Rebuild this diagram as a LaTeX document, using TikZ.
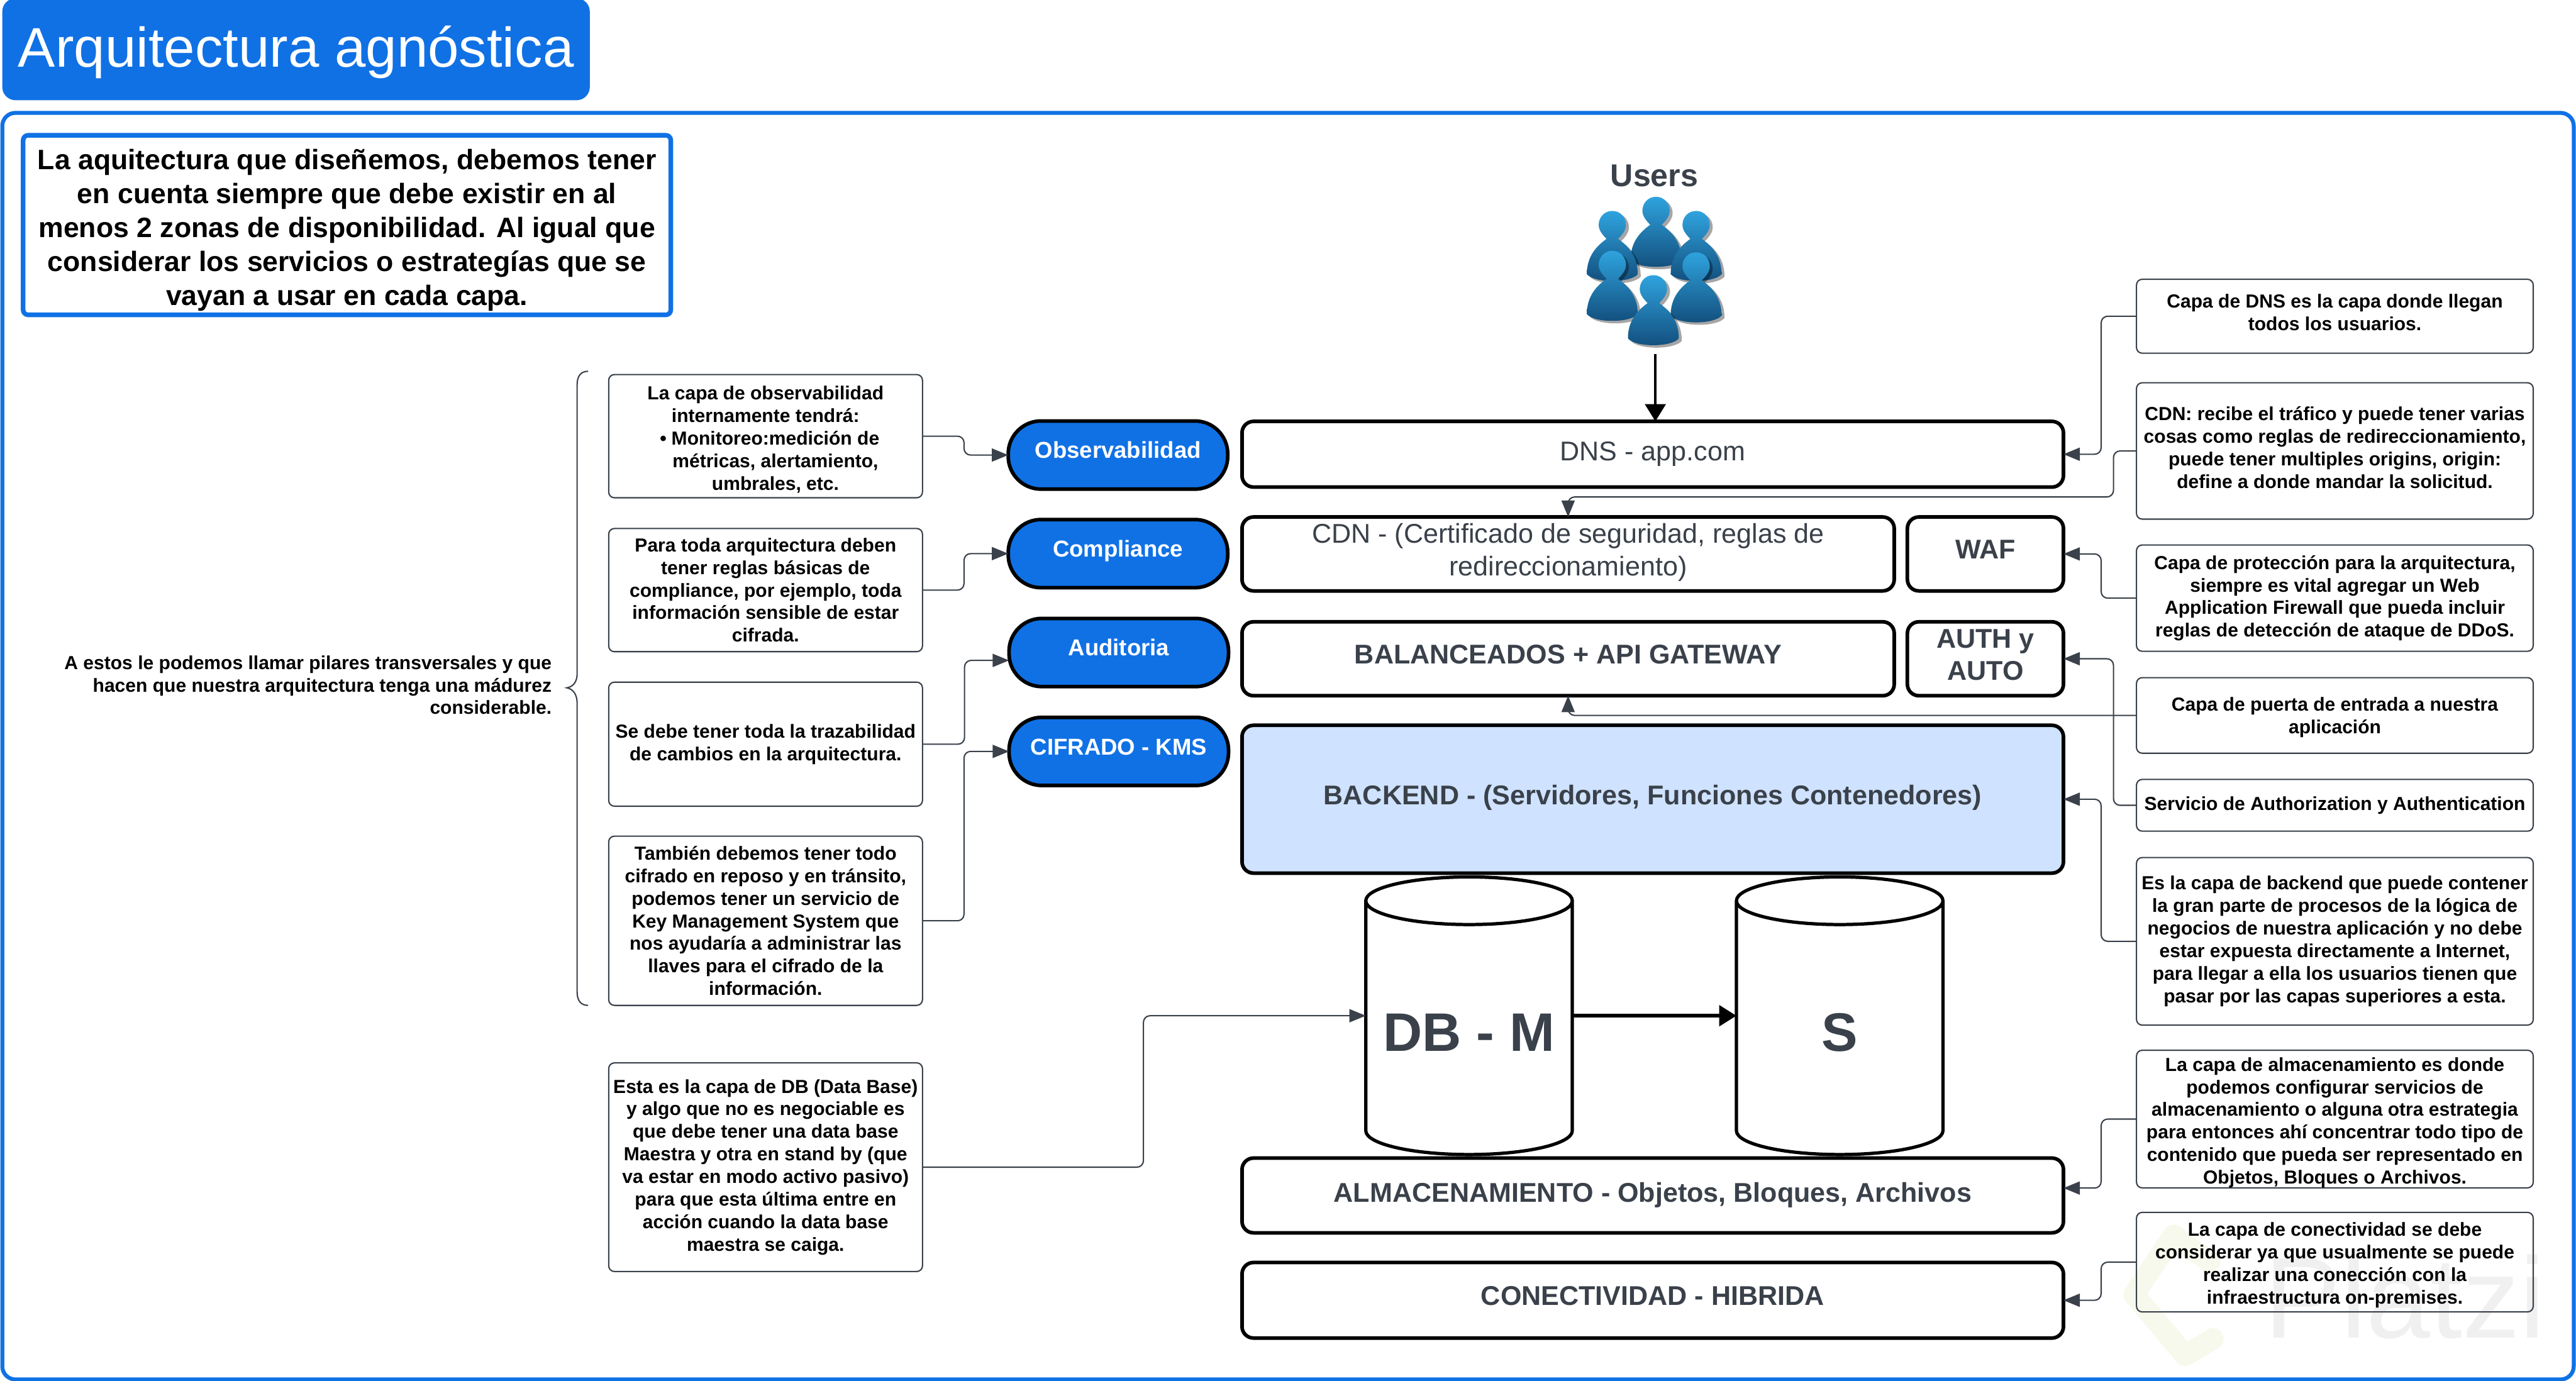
\documentclass[tikz,border=0pt]{standalone}
\usepackage{fontspec}
\setmainfont{Liberation Sans}
\usetikzlibrary{calc,arrows.meta,positioning}
\definecolor{myBlue}{HTML}{1071E5}
\definecolor{myGray}{HTML}{3A414A}
\definecolor{myBack}{HTML}{CFE2FF}
\definecolor{myPersonTop}{HTML}{2FA3DE}
\definecolor{myPersonBot}{HTML}{124E7C}
\definecolor{myLogo}{HTML}{F6F9EC}
\definecolor{myMark}{HTML}{F0F0F0}
\tikzset{
myTitle/.style={
	rectangle,fill=myBlue,rounded corners=8,text=white,
	inner sep=0pt,outer sep=0pt,
	text height=28pt,text depth=6.8pt,
	font=\fontsize{34}{40}\selectfont
}
, myFrame/.style={
	rectangle,draw=myBlue,fill=white,line width=2.4,rounded corners=8,
	inner sep=0pt,outer sep=0pt
}
, myIntro/.style={
	rectangle,draw=myBlue,fill=white,line width=2.8,rounded corners=3,
	inner sep=0pt,outer sep=0pt,align=center,text=black,
	font=\fontsize{17.07}{20.6}\selectfont\bfseries
}
, myLayer/.style={
	rectangle,draw=black,fill=white,line width=2.2,rounded corners=7,
	inner sep=0pt,outer sep=0pt,align=center,text=myGray,
	font=\fontsize{16.5}{19.7}\selectfont
}
, myLayerB/.style={
	myLayer,
	font=\fontsize{16.5}{19.5}\selectfont\bfseries
}
, myPill/.style={
	rectangle,draw=black,fill=myBlue,line width=2.2,rounded corners=20,
	inner sep=0pt,outer sep=0pt,text=white,
	minimum width=133.6,minimum height=41.5,
	text height=9pt,text depth=5pt,
	font=\fontsize{14}{16}\selectfont\bfseries
}
, myNote/.style={
	rectangle,draw=myGray,line width=.8,rounded corners=3.5,
	inner sep=0pt,outer sep=0pt,align=center,text=black,
	font=\fontsize{11.5}{13.75}\selectfont\bfseries
}
, myLeftNote/.style={myNote,minimum width=191}
, myRightNote/.style={myNote,minimum width=241.5}
, myDb/.style={
	rectangle,inner sep=0pt,outer sep=0pt,text=myGray,
	minimum width=125.7,minimum height=140,
	text height=44pt,text depth=.6pt,
	font=\fontsize{33}{38}\selectfont\bfseries
}
, myDbLine/.style={draw=black,line width=2,line join=round}
% link
, myLink/.style={
	draw=myGray,line width=.8,rounded corners=4,
	-{Triangle[length=10pt,width=8pt,fill=myGray]}
}
, myMain/.style={
	draw=black,line width=1.6,
	-{Triangle[length=10.5pt,width=12.5pt,fill=black]}
}
, myPerson/.pic={
	\path[fill=black,opacity=.35,shift={(1.8,1.5)}] (0,0) .. controls (5,0) and (8.3,4) .. (8.3,8.5) .. controls (8.3,12) and (5.5,15) .. (3.5,17) .. controls (9,21) and (15.5,27) .. (15.5,38.5) .. controls (11,44) and (-11,44) .. (-15.5,38.5) .. controls (-15.5,27) and (-9,21) .. (-3.5,17) .. controls (-5.5,15) and (-8.3,12) .. (-8.3,8.5) .. controls (-8.3,4) and (-5,0) .. (0,0) -- cycle;
	\path[top color=myPersonTop,bottom color=myPersonBot] (0,0) .. controls (5,0) and (8.3,4) .. (8.3,8.5) .. controls (8.3,12) and (5.5,15) .. (3.5,17) .. controls (9,21) and (15.5,27) .. (15.5,38.5) .. controls (11,44) and (-11,44) .. (-15.5,38.5) .. controls (-15.5,27) and (-9,21) .. (-3.5,17) .. controls (-5.5,15) and (-8.3,12) .. (-8.3,8.5) .. controls (-8.3,4) and (-5,0) .. (0,0) -- cycle;
}
}
\begin{document}
\begin{tikzpicture}[x=1pt,y=-1pt]
	\useasboundingbox (0,0) rectangle (1568,840.6);
	% title and frame
	\node[myTitle,minimum width=357.6,minimum height=62] (Title) at (180.2,30) {Arquitectura agnóstica};
	\node[myFrame,minimum width=1565.2,minimum height=771] (Frame) at (784,454.2) {};
	% watermark
	\draw[color=myLogo,line width=13,line join=round,line cap=round] (1345,768) -- (1323,752) -- (1299,788) -- (1330,825) -- (1347,815);
	\node[anchor=base west,inner sep=0pt,text=myMark,font=\fontsize{70}{70}\selectfont] (Mark) at (1378,814.5) {Platzi};
	% intro
	\node[myIntro,text height=101pt,minimum width=394.2,minimum height=109.3] (Intro) at (211.2,137) {La aquitectura que diseñemos, debemos tener\\en cuenta siempre que debe existir en al\\menos 2 zonas de disponibilidad. Al igual que\\considerar los servicios o estrategías que se\\vayan a usar en cada capa.};
	% users
	\node[inner sep=0pt,text=myGray,font=\fontsize{19.2}{22}\selectfont\bfseries] (UsersLabel) at (1007,107) {Users};
	\foreach \myX/\myY in {1008/119.8, 981.4/128.4, 1032.4/128.4, 981.4/152.7, 1032.4/153.6, 1006.4/167.5}
		\pic at (\myX,\myY) {myPerson};
	\node[inner sep=0pt,outer sep=0pt,minimum width=90,minimum height=97] (Users) at (1007.6,167) {};
	% layers
	\node[myLayer,text height=11.5pt,text depth=4pt,minimum width=500,minimum height=40] (Dns) at (1006,276.5) {DNS - app.com};
	\node[myLayer,text depth=5.5pt,minimum width=397,minimum height=45] (Cdn) at (954.5,337.2) {CDN - (Certificado de seguridad, reglas de\\redireccionamiento)};
	\node[myLayerB,text height=12pt,text depth=6pt,minimum width=95,minimum height=45] (Waf) at (1208.5,337.2) {WAF};
	\node[myLayerB,text height=12pt,text depth=6pt,minimum width=397,minimum height=45] (Bal) at (954.5,401) {BALANCEADOS + API GATEWAY};
	\node[myLayerB,text depth=5pt,minimum width=95,minimum height=45] (Aut) at (1208.5,401) {AUTH y\\AUTO};
	\node[myLayerB,fill=myBack,text height=12pt,text depth=5.6pt,minimum width=500,minimum height=90] (Back) at (1006,486.5) {BACKEND - (Servidores, Funciones Contenedores)};
	\node[myLayerB,text height=12pt,text depth=4pt,minimum width=500,minimum height=45.5] (Alm) at (1006,727.7) {ALMACENAMIENTO - Objetos, Bloques, Archivos};
	\node[myLayerB,text height=12pt,text depth=6pt,minimum width=500,minimum height=46] (Con) at (1006,791.5) {CONECTIVIDAD - HIBRIDA};
	% db
	\node[myDb] (DbM) at (894.2,618.3) {DB - M};
	\node[myDb] (DbS) at (1119.8,618.3) {S};
	\foreach \myDbName in {DbM,DbS}
		\draw[myDbLine] (\myDbName.north) ellipse [x radius=62.85pt,y radius=14.5pt]
			(\myDbName.north west) -- (\myDbName.south west) arc [start angle=180,end angle=360,x radius=62.85pt,y radius=14.5pt] -- (\myDbName.north east);
	% pillars
	\node[myPill] (Obs) at (680.5,277) {Observabilidad};
	\node[myPill] (Comp) at (680.5,337) {Compliance};
	\node[myPill] (Aud) at (681,397.2) {Auditoria};
	\node[myPill] (Cif) at (681,457.4) {CIFRADO - KMS};
	% left notes
	\node[myLeftNote,text height=67.6pt,minimum height=75] (NoteObs) at (466,265.5) {La capa de observabilidad\\internamente tendrá:\\\hspace*{12pt}\llap{•\hspace{3pt}}Monitoreo:medición de\\\hspace*{12pt}métricas, alertamiento,\\\hspace*{12pt}umbrales, etc.};
	\node[myLeftNote,minimum height=75] (NoteComp) at (466,359.2) {Para toda arquitectura deben\\tener reglas básicas de\\compliance, por ejemplo, toda\\información sensible de estar\\cifrada.};
	\node[myLeftNote,minimum height=75.5] (NoteAud) at (466,453) {Se debe tener toda la trazabilidad\\de cambios en la arquitectura.};
	\node[myLeftNote,minimum height=103] (NoteCif) at (466,560.5) {También debemos tener todo\\cifrado en reposo y en tránsito,\\podemos tener un servicio de\\Key Management System que\\nos ayudaría a administrar las\\llaves para el cifrado de la\\información.};
	\node[myLeftNote,minimum height=127] (NoteDb) at (466,710.5) {Esta es la capa de DB (Data Base)\\y algo que no es negociable es\\que debe tener una data base\\Maestra y otra en stand by (que\\va estar en modo activo pasivo)\\para que esta última entre en\\acción cuando la data base\\maestra se caiga.};
	\node[anchor=east,inner sep=0pt,align=right,text=black,font=\fontsize{11.5}{13.75}\selectfont\bfseries] (Pillars) at (336,417) {A estos le podemos llamar pilares transversales y que\\hacen que nuestra arquitectura tenga una mádurez\\considerable.};
	\draw[draw=myGray,line width=.8] (358,226) .. controls (353.5,226) and (351.3,229) .. (351.3,234) -- (351.3,410) .. controls (351.3,415) and (349,418) .. (345,418.7) .. controls (349,419.4) and (351.3,423) .. (351.3,428) -- (351.3,604) .. controls (351.3,609) and (353.5,612) .. (358,612);
	% right notes
	\node[myRightNote,text depth=4.5pt,minimum height=45] (NoteDns) at (1421.2,192.5) {Capa de DNS es la capa donde llegan\\todos los usuarios.};
	\node[myRightNote,text depth=4pt,minimum height=83] (NoteCdn) at (1421.2,274.5) {CDN: recibe el tráfico y puede tener varias\\cosas como reglas de redireccionamiento,\\puede tener multiples origins, origin:\\define a donde mandar la solicitud.};
	\node[myRightNote,minimum height=64.7] (NoteWaf) at (1421.2,364.1) {Capa de protección para la arquitectura,\\siempre es vital agregar un Web\\Application Firewall que pueda incluir\\reglas de detección de ataque de DDoS.};
	\node[myRightNote,text height=24.4pt,minimum height=46] (NoteBal) at (1421.2,435.5) {Capa de puerta de entrada a nuestra\\aplicación};
	\node[myRightNote,minimum height=31.5] (NoteAut) at (1421.2,490.2) {Servicio de Authorization y Authentication};
	\node[myRightNote,minimum height=102] (NoteBack) at (1421.2,573) {Es la capa de backend que puede contener\\la gran parte de procesos de la lógica de\\negocios de nuestra aplicación y no debe\\estar expuesta directamente a Internet,\\para llegar a ella los usuarios tienen que\\pasar por las capas superiores a esta.};
	\node[myRightNote,text height=81.4pt,minimum height=82.5] (NoteAlm) at (1421.2,681.2) {La capa de almacenamiento es donde\\podemos configurar servicios de\\almacenamiento o alguna otra estrategia\\para entonces ahí concentrar todo tipo de\\contenido que pueda ser representado en\\Objetos, Bloques o Archivos.};
	\node[myRightNote,text height=53pt,minimum height=60.6] (NoteCon) at (1421.2,768.3) {La capa de conectividad se debe\\considerar ya que usualmente se puede\\realizar una conección con la\\infraestructura on-premises.};
	% links
	\draw[myMain] (Users.south) -- (Users.south |- Dns.north);
	\draw[myMain,line width=2.2] (DbM.east) -- (DbS.west);
	\draw[myLink] (NoteObs.east) -- ++(25.3,0) |- (Obs.west);
	\draw[myLink] (NoteComp.east) -- ++(25.3,0) |- (Comp.west);
	\draw[myLink] (NoteAud.east) -- ++(25.6,0) |- ($(Aud.west)+(0,4.8)$);
	\draw[myLink] (NoteCif.east) -- ++(25.3,0) |- (Cif.west);
	\draw[myLink] (NoteDb.east) -- ++(134.5,0) |- (DbM.west);
	\draw[myLink] (NoteDns.west) -- ++(-21.5,0) |- (Dns.east);
	\draw[myLink] (NoteCdn.west) -- ++(-14,0) -- ++(0,28) -| (Cdn.north);
	\draw[myLink] (NoteWaf.west) -- ++(-21.5,0) |- (Waf.east);
	\draw[myLink] (NoteBal.west) -| (Bal.south);
	\draw[myLink] (NoteAut.west) -- ++(-14,0) |- (Aut.east);
	\draw[myLink] (NoteBack.west) -- ++(-21.5,0) |- (Back.east);
	\draw[myLink] (NoteAlm.west) -- ++(-21.5,0) |- ($(Alm.east)+(0,-4.5)$);
	\draw[myLink] (NoteCon.west) -- ++(-21.5,0) |- (Con.east);
\end{tikzpicture}
\end{document}
